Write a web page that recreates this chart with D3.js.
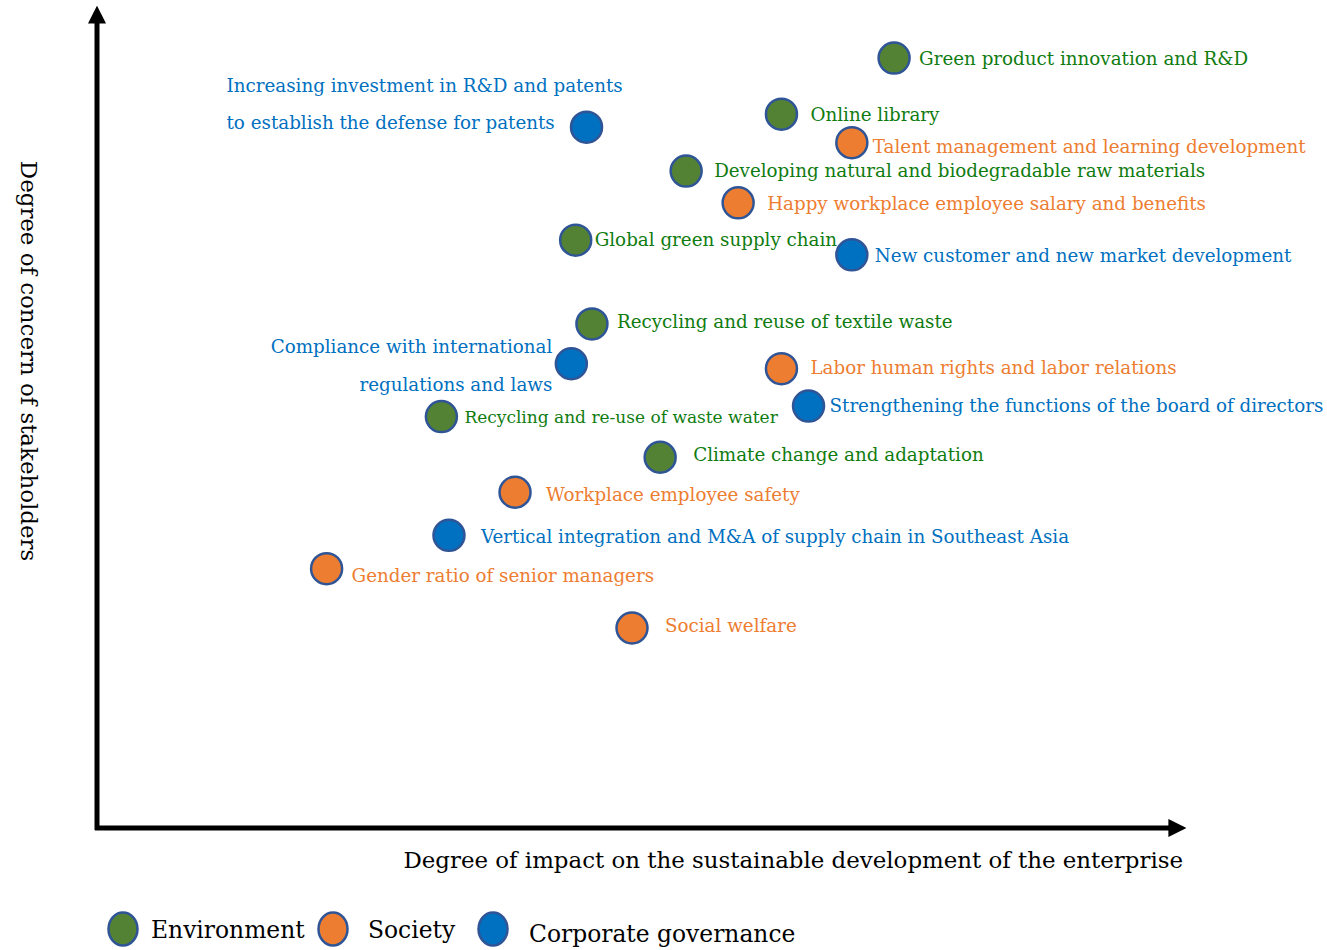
<!DOCTYPE html>
<html>
<head>
<meta charset="utf-8">
<script src="https://cdn.jsdelivr.net/npm/d3@7"></script>
<style>
  html, body { margin: 0; padding: 0; background: #fff; }
  svg { display: block; }
  text { font-family: "DejaVu Serif", serif; }
</style>
</head>
<body>
<svg id="chart" width="1327" height="950"></svg>
<script>
// materiality matrix (0–10 on both axes)
const topics = [
  'Green product innovation and R&D',
  'Online library',
  'Developing natural and biodegradable raw materials',
  'Global green supply chain',
  'Recycling and reuse of textile waste',
  'Recycling and re-use of waste water',
  'Climate change and adaptation',
  'Talent management and learning development',
  'Happy workplace employee salary and benefits',
  'Labor human rights and labor relations',
  'Workplace employee safety',
  'Gender ratio of senior managers',
  'Social welfare',
  'Increasing investment in R&D and patents|to establish the defense for patents',
  'New customer and new market development',
  'Compliance with international|regulations and laws',
  'Strengthening the functions of the board of directors',
  'Vertical integration and M&A of supply chain in Southeast Asia'
];
const groups = [
  'Environment', 'Environment', 'Environment', 'Environment', 'Environment', 'Environment', 'Environment',
  'Society', 'Society', 'Society', 'Society', 'Society', 'Society',
  'Corporate governance', 'Corporate governance', 'Corporate governance', 'Corporate governance', 'Corporate governance'
];
const impact = [7.36, 6.32, 5.44, 4.42, 4.57, 3.18, 5.20, 6.97, 5.92, 6.32, 3.86, 2.12, 4.94, 4.52, 6.97, 4.38, 6.57, 3.25];
const concern = [9.47, 8.78, 8.08, 7.23, 6.20, 5.06, 4.56, 8.43, 7.69, 5.65, 4.13, 3.19, 2.46, 8.62, 7.05, 5.71, 5.19, 3.60];
const categories = ['Environment', 'Society', 'Corporate governance'];

// label placement relative to the dot (dx, dy, anchor, line gap, font size)
const labelLayout = [
  [25, 2], [29, 2], [28, 1], [19, 1], [25, -1], [23, 1, 'start', 0, 17], [33, -1],
  [21, 5], [29, 2], [29, 0], [31, 4], [25, 8], [33, -1],
  [-360, -40, 'start', 37], [23, 2], [-19, -16, 'end', 38], [21, 1], [32, 3]
];

const fills = { 'Environment': '#548235', 'Society': '#ed7d31', 'Corporate governance': '#0070c0' };
const inks = { 'Environment': '#107c10', 'Society': '#ed7d31', 'Corporate governance': '#0070c0' };

const svg = d3.select('#chart');
const x = d3.scaleLinear().domain([0, 10]).range([97, 1180]);
const y = d3.scaleLinear().domain([0, 10]).range([828, 15]);

// axes as arrows
const defs = svg.append('defs');
defs.append('marker')
  .attr('id', 'arrow')
  .attr('viewBox', '0 0 10 10')
  .attr('refX', 2).attr('refY', 5)
  .attr('markerWidth', 3.6).attr('markerHeight', 3.6)
  .attr('orient', 'auto')
  .append('path')
  .attr('d', 'M0,0 L10,5 L0,10 Z')
  .attr('fill', '#000');

svg.append('line')
  .attr('x1', x(0)).attr('y1', y(0) + 2)
  .attr('x2', x(0)).attr('y2', 20)
  .attr('stroke', '#000').attr('stroke-width', 5)
  .attr('marker-end', 'url(#arrow)');
svg.append('line')
  .attr('x1', x(0) - 2).attr('y1', y(0))
  .attr('x2', 1172).attr('y2', y(0))
  .attr('stroke', '#000').attr('stroke-width', 5)
  .attr('marker-end', 'url(#arrow)');

svg.append('text')
  .attr('x', 1183).attr('y', 868)
  .attr('text-anchor', 'end')
  .attr('font-size', 22.9)
  .attr('fill', '#000')
  .text('Degree of impact on the sustainable development of the enterprise');

svg.append('text')
  .attr('transform', 'translate(27,361) rotate(90)')
  .attr('text-anchor', 'middle')
  .attr('dominant-baseline', 'middle')
  .attr('font-size', 22.9)
  .attr('fill', '#000')
  .text('Degree of concern of stakeholders');

const data = topics.map((t, i) => ({
  name: t, group: groups[i], x: impact[i], y: concern[i], lay: labelLayout[i]
}));

const pts = svg.append('g').selectAll('g').data(data).join('g');

pts.append('circle')
  .attr('cx', d => x(d.x))
  .attr('cy', d => y(d.y))
  .attr('r', 15.5)
  .attr('fill', d => fills[d.group])
  .attr('stroke', '#2f5597')
  .attr('stroke-width', 2.5);

pts.each(function (d) {
  const [dx, dy, anchor, gap, fs] = d.lay;
  const lines = d.name.split('|');
  const t = d3.select(this).append('text')
    .attr('x', x(d.x) + dx)
    .attr('y', y(d.y) + dy)
    .attr('text-anchor', anchor || 'start')
    .attr('dominant-baseline', 'middle')
    .attr('font-size', fs || 18.3)
    .attr('fill', inks[d.group]);
  lines.forEach((l, k) => {
    t.append('tspan')
      .attr('x', x(d.x) + dx)
      .attr('y', y(d.y) + dy + k * (gap || 0))
      .text(l);
  });
});

// legend
const legendX = [123, 333, 493];
const legendTextX = [151, 368, 529];
const legendTextY = [931, 931, 935];
const lg = svg.append('g').selectAll('g').data(categories).join('g');
lg.append('ellipse')
  .attr('cx', (d, i) => legendX[i])
  .attr('cy', 929)
  .attr('rx', 14.5).attr('ry', 16.5)
  .attr('fill', d => fills[d])
  .attr('stroke', '#2f5597')
  .attr('stroke-width', 2.5);
lg.append('text')
  .attr('x', (d, i) => legendTextX[i])
  .attr('y', (d, i) => legendTextY[i])
  .attr('dominant-baseline', 'middle')
  .attr('font-size', 23.4)
  .attr('fill', '#000')
  .text(d => d);
</script>
</body>
</html>
